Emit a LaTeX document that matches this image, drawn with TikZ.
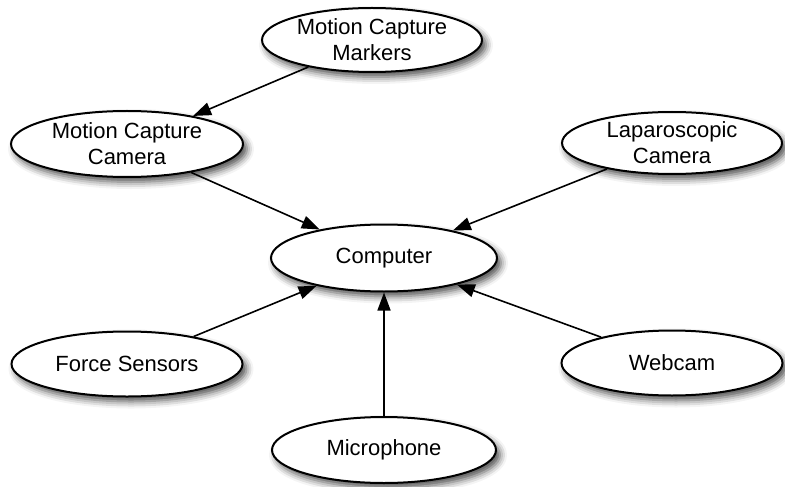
\documentclass[tikz,border=0pt]{standalone}
\usepackage{fontspec}
\setmainfont{Liberation Sans}
\usepackage{tikz}
\usetikzlibrary{shapes.geometric, arrows.meta, positioning, shadows.blur}

\begin{document}
\begin{tikzpicture}[
    node distance=1cm, on grid,
    device/.style={ellipse, draw=black, line width=1pt, fill=white, inner sep=0pt, align=center,
        font=\fontsize{11}{13}\selectfont,
        blur shadow={shadow xshift=2pt, shadow yshift=-2.5pt, shadow blur radius=3.5pt, shadow opacity=70}},
    arrow/.style={-{Triangle[length=9pt, width=6.5pt]}, line width=0.8pt}
]

\useasboundingbox (0,0) rectangle (392.5pt,-243pt);

% central computer
\node[device, minimum width=113pt, minimum height=33.5pt] (computer) at (192pt,-129pt) {Computer};

% inputs above
\node[device, minimum width=110pt, minimum height=32pt, above left=109pt and 6pt of computer] (markers) {Motion Capture\\Markers};
\node[device, minimum width=116pt, minimum height=33pt, above left=57pt and 128.5pt of computer] (mocap) {Motion Capture\\Camera};
\node[device, minimum width=110pt, minimum height=31pt, above right=57.5pt and 144pt of computer] (lapcam) {Laparoscopic\\Camera};

% inputs below
\node[device, minimum width=115.5pt, minimum height=32.5pt, below left=53pt and 128.5pt of computer] (force) {Force Sensors};
\node[device, minimum width=110.5pt, minimum height=32.5pt, below right=52.5pt and 144pt of computer] (webcam) {Webcam};
\node[device, minimum width=112pt, minimum height=33pt, below=96pt of computer] (mic) {Microphone};

% Arrows
\draw[arrow] (markers) -- (mocap);
\draw[arrow] (mocap) -- (computer);
\draw[arrow] (lapcam) -- (computer);
\draw[arrow] (force) -- (computer);
\draw[arrow] (webcam) -- (computer);
\draw[arrow] (mic) -- (computer);

\end{tikzpicture}
\end{document}
